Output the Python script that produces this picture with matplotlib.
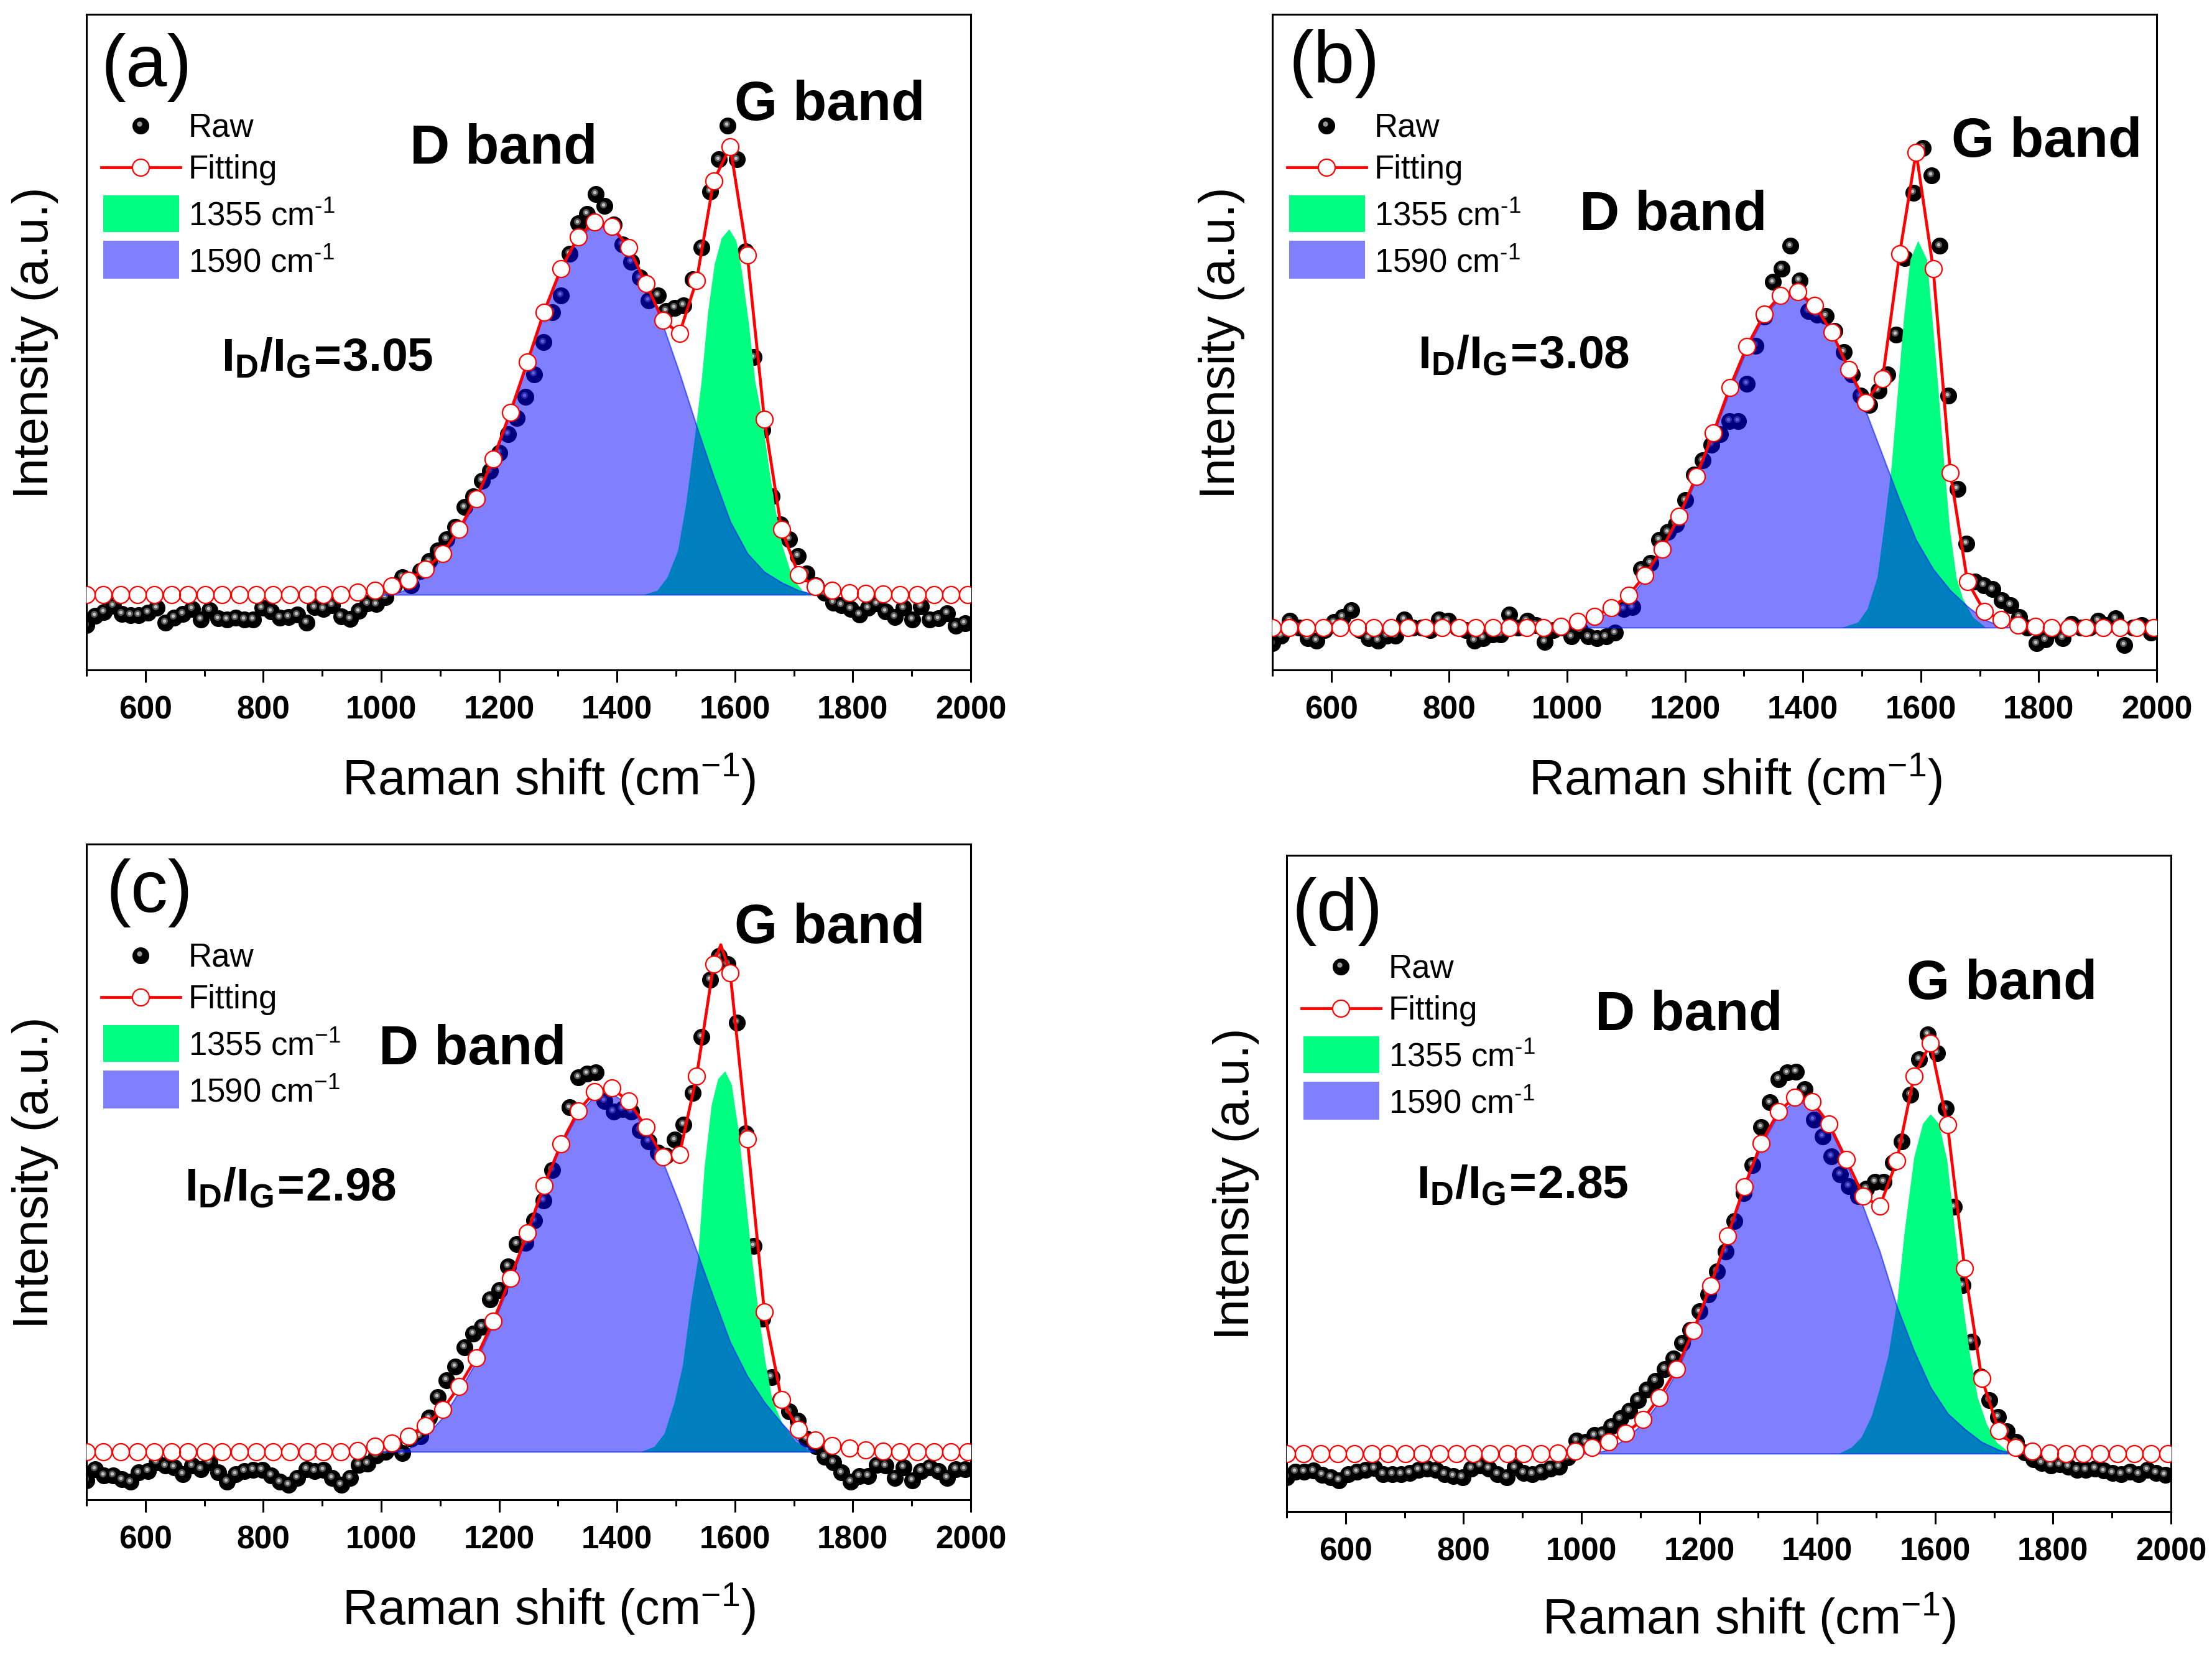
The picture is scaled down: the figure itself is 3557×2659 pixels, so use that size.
"""Raman spectra of four samples, D and G band fits."""

import numpy as np
import matplotlib
matplotlib.use("Agg")
import matplotlib.pyplot as plt
from matplotlib.patches import Rectangle
from matplotlib.transforms import ScaledTranslation

plt.rcParams["font.family"] = ["Liberation Sans", "DejaVu Sans"]
plt.rcParams["mathtext.fontset"] = "custom"
plt.rcParams["mathtext.rm"] = "Liberation Sans"
plt.rcParams["mathtext.bf"] = "Liberation Sans:bold"
plt.rcParams["mathtext.it"] = "Liberation Sans:italic"
plt.rcParams["mathtext.default"] = "regular"

FIG_W, FIG_H = 3557, 2659
PREVIEW = 3557 / 1568

RAW_X = [500, 515, 530, 545, 560, 575, 589, 604, 619, 634,
         649, 664, 679, 694, 709, 724, 738, 753, 768, 783,
         798, 813, 828, 843, 858, 873, 887, 902, 917, 932,
         947, 962, 977, 992, 1007, 1022, 1036, 1051, 1066, 1081,
         1096, 1111, 1126, 1141, 1156, 1171, 1185, 1200, 1215, 1230,
         1245, 1260, 1275, 1290, 1305, 1320, 1334, 1349, 1364, 1379,
         1394, 1409, 1424, 1439, 1454, 1469, 1483, 1498, 1513, 1528,
         1543, 1558, 1573, 1588, 1603, 1618, 1632, 1647, 1662, 1677,
         1692, 1707, 1722, 1737, 1752, 1767, 1781, 1796, 1811, 1826,
         1841, 1856, 1871, 1886, 1901, 1916, 1930, 1945, 1960, 1975, 1990]

FIT_X = [500, 529, 558, 586, 615, 644, 672, 701, 730, 759, 788, 816, 845, 874,
         902, 931, 960, 989, 1018, 1046, 1075, 1104, 1132, 1161, 1190, 1219,
         1248, 1276, 1305, 1334, 1362, 1391, 1420, 1449, 1478, 1506, 1535,
         1564, 1592, 1621, 1650, 1679, 1708, 1736, 1765, 1794, 1822, 1851,
         1880, 1909, 1938, 1966, 1995]

# intensities are in arbitrary units, same scale as ylim of each panel
RAW_A = [84, 102, 109, 121, 106, 103, 103, 108, 117, 89, 99, 106, 115, 95, 113, 97, 95, 98,
         95, 95, 117, 110, 99, 100, 104, 89, 118, 115, 122, 101, 96, 111, 125, 124, 137, 160,
         175, 160, 187, 205, 225, 247, 270, 307, 328, 357, 375, 410, 445, 475, 515, 558, 618,
         675, 707, 785, 843, 860, 898, 875, 840, 803, 770, 740, 697, 707, 677, 683, 688, 737,
         797, 903, 963, 1027, 963, 790, 590, 453, 327, 275, 247, 215, 182, 160, 145, 127, 122,
         115, 105, 117, 125, 110, 100, 117, 95, 120, 95, 97, 107, 83, 88]
RAW_B = [50, 65, 93, 80, 60, 55, 75, 90, 100, 113, 75, 60, 55, 65, 65, 95, 80, 80, 75, 95,
         93, 80, 75, 55, 60, 67, 67, 105, 80, 93, 85, 53, 75, 80, 63, 75, 63, 60, 63, 70,
         115, 118, 190, 202, 245, 260, 275, 320, 368, 395, 425, 445, 470, 470, 540, 612, 667,
         732, 757, 800, 735, 677, 670, 668, 640, 600, 557, 517, 500, 527, 557, 633, 777, 900,
         985, 933, 800, 517, 342, 238, 167, 160, 152, 132, 122, 100, 80, 50, 57, 75, 60, 87,
         80, 80, 93, 85, 97, 47, 80, 85, 70]
RAW_C = [37, 59, 47, 47, 39, 34, 52, 55, 72, 65, 62, 49, 65, 59, 72, 52, 35, 49, 55, 57,
         57, 47, 34, 29, 42, 59, 55, 57, 42, 29, 42, 67, 69, 85, 92, 102, 89, 117, 122,
         157, 197, 229, 255, 292, 319, 332, 384, 402, 447, 490, 492, 535, 574, 632, 682, 752,
         810, 817, 819, 765, 744, 749, 744, 709, 687, 665, 659, 690, 719, 780, 887, 997, 1042,
         1027, 915, 702, 487, 347, 235, 192, 169, 152, 117, 102, 82, 72, 52, 35, 45, 45, 67,
         65, 42, 62, 37, 55, 62, 55, 42, 59, 59]
RAW_D = [66, 76, 76, 78, 70, 66, 60, 72, 76, 80, 83, 72, 72, 72, 74, 80, 82, 80, 72, 68,
         66, 82, 88, 82, 72, 66, 84, 74, 72, 76, 82, 86, 103, 136, 133, 146, 148, 163, 178, 193,
         213, 233, 250, 273, 293, 323, 348, 383, 416, 460, 498, 556, 610, 663, 736, 783, 828,
         840, 842, 808, 750, 718, 680, 645, 623, 603, 618, 631, 631, 668, 708, 798, 866, 913,
         878, 771, 583, 433, 325, 258, 213, 181, 153, 133, 113, 100, 93, 88, 90, 86, 80, 80,
         82, 78, 74, 72, 76, 72, 80, 74, 70]

FIT_A = [142, 142, 142, 142, 142, 142, 142, 142, 142, 142, 142, 142, 142, 142, 142, 142,
         147, 150, 158, 169, 190, 220, 265, 323, 398, 486, 581, 675, 757, 817, 845, 837, 797,
         729, 659, 635, 735, 923, 987, 783, 473, 265, 180, 157, 150, 145, 144, 143, 142, 142,
         142, 142, 142]
FIT_B = [80, 80, 80, 80, 80, 80, 80, 80, 80, 80, 80, 80, 80, 80, 80, 80, 80, 82,
         92, 101, 117, 141, 178, 228, 290, 365, 447, 533, 610, 671, 707, 713, 688, 637, 567,
         505, 549, 785, 977, 757, 372, 167, 110, 95, 85, 82, 80, 80, 80, 80, 80, 80, 80]
FIT_C = [92, 92, 92, 92, 92, 92, 92, 92, 92, 92, 92, 92, 92, 92, 92, 92,
         94, 102, 109, 122, 142, 173, 217, 272, 342, 424, 512, 602, 682, 745, 782, 789, 764,
         714, 657, 662, 812, 1027, 1010, 692, 360, 192, 135, 114, 104, 99, 96, 93, 92, 92, 92,
         92, 92]
FIT_D = [111, 111, 111, 111, 111, 111, 111, 111, 111, 111, 111, 111, 111, 111, 111, 111, 112,
         116, 123, 133, 150, 176, 218, 273, 346, 432, 527, 621, 705, 765, 793, 785, 742, 674,
         604, 584, 671, 833, 896, 740, 466, 255, 155, 123, 115, 112, 111, 111, 111, 111, 111,
         111, 111]

# the fit line tops out between two markers in (c)
PEAK_C = [1576, 1064]

# D band sampled on FIT_X starting at FIT_X[17]
D_START = 17
D_A = [142, 142, 153, 180, 210, 260, 320, 395, 483, 579, 673, 755, 815, 840, 833, 795, 730,
       650, 560, 460, 365, 280, 220, 185, 165, 150, 142]
D_B = [80, 85, 95, 110, 135, 172, 225, 285, 360, 443, 527, 605, 667, 703, 709, 685, 635, 565,
       490, 405, 320, 245, 190, 150, 120, 95, 82, 80]
D_C = [92, 92, 97, 122, 157, 207, 265, 337, 419, 509, 599, 679, 740, 774, 779, 757, 707, 647,
       567, 477, 387, 302, 237, 187, 147, 112, 92]
D_D = [111, 111, 118, 140, 168, 210, 266, 340, 428, 523, 618, 700, 760, 786, 778, 736, 668,
       583, 498, 393, 308, 238, 188, 158, 133, 118, 111]

G_X_A = [1445, 1468, 1485, 1503, 1517, 1531, 1543, 1554, 1565, 1577, 1590, 1602, 1611, 1623,
         1634, 1646, 1657, 1668, 1680, 1697, 1714, 1731]
G_A = [142, 150, 175, 225, 315, 435, 545, 675, 765, 815, 832, 810, 755, 655, 545, 475, 385,
       305, 235, 175, 150, 142]
G_X_B = [1465, 1493, 1509, 1526, 1539, 1550, 1559, 1571, 1582, 1595, 1610, 1619, 1629, 1638,
         1649, 1660, 1671, 1688, 1710]
G_B = [80, 90, 115, 175, 285, 385, 505, 665, 775, 810, 775, 665, 535, 405, 265, 175, 135,
       100, 80]
G_X_C = [1440, 1463, 1480, 1497, 1511, 1525, 1537, 1548, 1560, 1571, 1583, 1594, 1606, 1617,
         1628, 1640, 1651, 1663, 1680, 1703, 1731]
G_C = [92, 102, 127, 187, 257, 377, 462, 637, 757, 807, 822, 797, 707, 587, 467, 357, 267,
       192, 147, 112, 92]
G_X_D = [1436, 1458, 1475, 1492, 1505, 1520, 1536, 1548, 1564, 1579, 1592, 1606, 1620, 1635,
         1648, 1659, 1672, 1687, 1704, 1728]
G_D = [111, 123, 143, 183, 233, 298, 408, 538, 678, 743, 761, 743, 673, 518, 388, 298, 218,
       168, 133, 111]

RATIOS = ["3.05", "3.08", "2.98", "2.85"]
TICKS = [600, 800, 1000, 1200, 1400, 1600, 1800, 2000]
MINOR = [500, 700, 900, 1100, 1300, 1500, 1700, 1900]

GREEN = "#00FF80"
BLUE = (0, 0, 1, 0.5)
RED = "#FF0000"
RAW_MS = 19.5
FIT_MS = 19.5

PANELS = [
    dict(name="(a)", box=(139, 23, 1561, 1077), raw=RAW_A, fit=FIT_A, d=D_A, gx=G_X_A, g=G_A,
         ymax=1237, base=142, peak=None, tag=(104, 48), dband=(357, 106), gband=(588, 75),
         ratio=(232, 254), xlab=(389, 552), ylab=(25, 243), dash="\\text{-}"),
    dict(name="(b)", box=(2046, 23, 3468, 1077), raw=RAW_B, fit=FIT_B, d=D_B, gx=G_X_B, g=G_B,
         ymax=1237, base=80, peak=None, tag=(946, 45), dband=(1186, 153), gband=(1451, 101),
         ratio=(1080, 252), xlab=(1230, 552), ylab=(866, 243), dash="\\text{-}"),
    dict(name="(c)", box=(139, 1357, 1561, 2411), raw=RAW_C, fit=FIT_C, d=D_C, gx=G_X_C, g=G_C,
         ymax=1257, base=92, peak=PEAK_C, tag=(106, 633), dband=(335, 744), gband=(588, 658),
         ratio=(206, 842), xlab=(389, 1140), ylab=(25, 831), dash="-"),
    dict(name="(d)", box=(2069, 1375, 3491, 2430), raw=RAW_D, fit=FIT_D, d=D_D, gx=G_X_D, g=G_D,
         ymax=1256, base=111, peak=None, tag=(948, 646), dband=(1197, 720), gband=(1419, 698),
         ratio=(1079, 840), xlab=(1240, 1147), ylab=(876, 839), dash="\\text{-}"),
]


def fig_xy(x, y):
    # preview pixel -> figure fraction
    return x * PREVIEW / FIG_W, 1 - y * PREVIEW / FIG_H


def raw_markers(ax, x, y):
    ax.plot(x, y, ls="", marker="o", ms=RAW_MS, mfc="black", mec="none", zorder=1)
    shift = ScaledTranslation(-1.5 / 72, 2 / 72, ax.figure.dpi_scale_trans)
    ax.plot(x, y, ls="", marker="o", ms=8, mfc="#555555", mec="none", zorder=1,
            transform=ax.transData + shift)
    ax.plot(x, y, ls="", marker="o", ms=4, mfc="#c0c0c0", mec="none", zorder=1,
            transform=ax.transData + shift)


def draw_legend(ax, dash, box):
    w = box[2] - box[0]
    h = box[3] - box[1]

    def at(dx, dy):
        return dx / w, 1 - dy / h

    tr = ax.transAxes
    x, y = at(87, 179)
    ax.plot([x], [y], ls="", marker="o", ms=RAW_MS, mfc="black", mec="none",
            transform=tr, zorder=6)
    shift = ScaledTranslation(-1.5 / 72, 2 / 72, ax.figure.dpi_scale_trans)
    ax.plot([x], [y], ls="", marker="o", ms=6, mfc="#999999", mec="none",
            transform=tr + shift, zorder=6)

    x0, y1 = at(24, 246)
    x1, _ = at(151, 246)
    ax.plot([x0, x1], [y1, y1], color=RED, lw=3.4, transform=tr, zorder=6)
    x, y = at(87, 246)
    ax.plot([x], [y], ls="", marker="o", ms=FIT_MS, mfc="white", mec=RED, mew=1.6,
            transform=tr, zorder=7)

    x0, y0 = at(27, 350)
    ax.add_patch(Rectangle((x0, y0), 122 / w, 59 / h, transform=tr, fc=GREEN, ec="none", zorder=6))
    x0, y0 = at(27, 425)
    ax.add_patch(Rectangle((x0, y0), 122 / w, 61 / h, transform=tr, fc=BLUE, ec="none", zorder=6))

    label_x = 164
    labels = [("Raw", 182), ("Fitting", 250),
              ("1355 cm$^{%s1}$" % dash, 325), ("1590 cm$^{%s1}$" % dash, 400)]
    for txt, dy in labels:
        x, y = at(label_x, dy)
        ax.text(x, y, txt, transform=tr, fontsize=38, ha="left", va="center", zorder=8)


def draw_panel(fig, p):
    left, top, right, bottom = p["box"]
    ax = fig.add_axes([left / FIG_W, 1 - bottom / FIG_H,
                       (right - left) / FIG_W, (bottom - top) / FIG_H])

    raw_markers(ax, RAW_X, p["raw"])

    ax.fill_between(p["gx"], p["base"], p["g"], color=GREEN, lw=0, zorder=2)
    ax.fill_between(FIT_X[D_START:D_START + len(p["d"])], p["base"], p["d"],
                    facecolor=BLUE, edgecolor=(0, 0.1, 1, 0.6), lw=1.5, zorder=3)

    line_x = list(FIT_X)
    line_y = list(p["fit"])
    if p["peak"] is not None:
        i = np.searchsorted(line_x, p["peak"][0])
        line_x.insert(i, p["peak"][0])
        line_y.insert(i, p["peak"][1])
    ax.plot(line_x, line_y, color=RED, lw=3.4, zorder=4)
    ax.plot(FIT_X, p["fit"], ls="", marker="o", ms=FIT_MS, mfc="white", mec="none", zorder=4)
    ax.plot(FIT_X, p["fit"], ls="", marker="o", ms=FIT_MS, mfc="none", mec=RED, mew=1.6, zorder=5)

    ax.set_xlim(500, 2000)
    ax.set_ylim(0, p["ymax"])
    ax.set_yticks([])
    ax.set_xticks(TICKS)
    ax.set_xticks(MINOR, minor=True)
    ax.tick_params(axis="x", which="major", length=14.5, width=2.2, pad=15, labelsize=37)
    ax.tick_params(axis="x", which="minor", length=7.5, width=2.2)
    for lab in ax.get_xticklabels():
        lab.set_fontweight("bold")
    for s in ax.spines.values():
        s.set_linewidth(2.2)

    draw_legend(ax, p["dash"], p["box"])

    x, y = fig_xy(*p["tag"])
    fig.text(x, y, p["name"], fontsize=86, ha="center", va="center")
    x, y = fig_xy(*p["dband"])
    fig.text(x, y, "D band", fontsize=64, fontweight="bold", ha="center", va="center")
    x, y = fig_xy(*p["gband"])
    fig.text(x, y, "G band", fontsize=64, fontweight="bold", ha="center", va="center")
    x, y = fig_xy(*p["ratio"])
    fig.text(x, y, "$\\mathbf{I_D/I_G\\!=\\!%s}$" % p["ratio_txt"], fontsize=54,
             ha="center", va="center")
    x, y = fig_xy(*p["xlab"])
    fig.text(x, y, "Raman shift (cm$^{-1}$)", fontsize=57, ha="center", va="center")
    x, y = fig_xy(*p["ylab"])
    fig.text(x, y, "Intensity (a.u.)", fontsize=57, rotation=90, ha="center", va="center")


def main():
    fig = plt.figure(figsize=(FIG_W / 100, FIG_H / 100), dpi=100)
    for p, r in zip(PANELS, RATIOS):
        p["ratio_txt"] = r
        draw_panel(fig, p)
    fig.savefig("out.png", dpi=100)
    plt.close(fig)


if __name__ == "__main__":
    main()
